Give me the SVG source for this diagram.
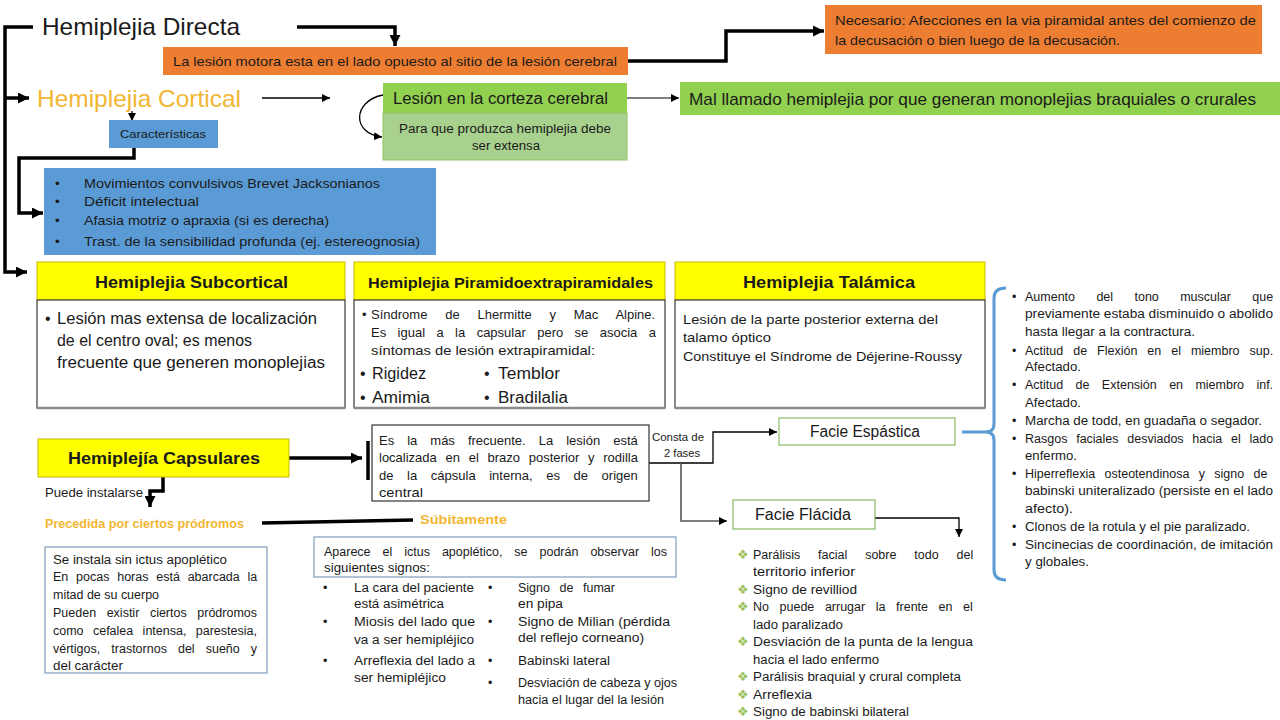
<svg xmlns="http://www.w3.org/2000/svg" width="1280" height="720" viewBox="0 0 1280 720">
<defs>
<marker id="big" viewBox="0 0 10 10" refX="10" refY="5" markerWidth="11" markerHeight="11" markerUnits="userSpaceOnUse" orient="auto"><path d="M0,0 L10,5 L0,10 z" fill="#000"/></marker>
<marker id="sm" viewBox="0 0 10 10" refX="10" refY="5" markerWidth="8" markerHeight="8" markerUnits="userSpaceOnUse" orient="auto"><path d="M0,0 L10,5 L0,10 z" fill="#000"/></marker>
</defs>
<style>
text{font-family:"Liberation Sans",Arial,sans-serif;fill:#1a1a1a}
.h{font-size:24px}
.gold{fill:#F2B632}
.b{font-weight:bold}
.orange{fill:#ED7D31}
.blue{fill:#5B9BD5}
.green{fill:#92D050}
.lgreen{fill:#A9D18E}
.yel{fill:#FFFF00;stroke:#C9B800;stroke-width:1}
.body{fill:#fff;stroke:#3a3a3a;stroke-width:1.2}
.shadow{stroke:#8a8a8a;stroke-width:2.5}
.thick{fill:none;stroke:#000;stroke-width:3.5}
.thin{fill:none;stroke:#000;stroke-width:1.3}
.bbox{fill:#fff;stroke:#7F9DB9;stroke-width:1.2}
.gbox{fill:#fff;stroke:#70AD47;stroke-width:1}
.f11{font-size:11px}.f12{font-size:12.5px}.f13{font-size:13px}.f135{font-size:13.5px}.f16{font-size:16px}.f17{font-size:17px}
.dia{fill:#9BC25A;font-family:"DejaVu Sans",sans-serif;font-size:13px}
</style>

<g id="connectors">
<path class="thick" d="M33,27 H5 V272 H27" marker-end="url(#big)"/>
<path class="thick" d="M5,98 H29" marker-end="url(#big)"/>
<path class="thick" d="M297,27 H395 V46" marker-end="url(#big)"/>
<path class="thick" d="M628,61 H726 V31 H824" marker-end="url(#big)"/>
<path class="thin" d="M262,98 H330" marker-end="url(#sm)"/>
<path class="thin" d="M132,111 V121" marker-end="url(#sm)"/>
<path class="thick" d="M134,148 V158 H19 V213 H43" marker-end="url(#big)"/>
<path class="thin" d="M383,95 C352,101 352,134 382,137" marker-end="url(#sm)"/>
<path fill="none" stroke="#555" stroke-width="1.3" d="M627,98 H679" marker-end="url(#sm)"/>
<path class="thick" d="M289,458 H362" marker-end="url(#big)"/>
<path fill="none" stroke="#000" stroke-width="3.5" d="M368,441 V480"/>
<path class="thin" stroke-width="1.6" d="M649,463 H713 V432 H777" marker-end="url(#sm)"/>
<path fill="none" stroke="#555" stroke-width="1.6" d="M681,463 V521 H727" marker-end="url(#sm)"/>
<path fill="none" stroke="#5B9BD5" stroke-width="3" d="M962,432 H988"/>
<path class="thin" d="M875,518 H959 V537" marker-end="url(#sm)"/>
<path class="thick" d="M163,477 V491 H150 V507" marker-end="url(#big)"/>
<path fill="none" stroke="#000" stroke-width="3.5" d="M262,523 L413,520"/>
<path fill="none" stroke="#5B9BD5" stroke-width="3" d="M1006,288 Q994,288 994,298 V424 Q994,432 986,432 Q994,432 994,440 V570 Q994,580 1006,580"/>
</g>

<g id="directa">
<text class="h" x="42" y="35" textLength="198" lengthAdjust="spacingAndGlyphs">Hemiplejia Directa</text>
</g>

<g id="lesion-motora">
<rect class="orange" x="163" y="47" width="465" height="28"/>
<text class="f13" x="173" y="66" textLength="444" lengthAdjust="spacingAndGlyphs">La lesión motora esta en el lado opuesto al sitio de la lesión cerebral</text>
</g>

<g id="necesario">
<rect class="orange" x="825" y="5" width="437" height="49"/>
<text class="f135" x="835" y="25" textLength="421" lengthAdjust="spacingAndGlyphs">Necesario: Afecciones en la via piramidal antes del comienzo de</text>
<text class="f135" x="835" y="45" textLength="285" lengthAdjust="spacingAndGlyphs">la decusación o bien luego de la decusación.</text>
</g>

<g id="cortical">
<text class="h gold" x="37" y="107" textLength="204" lengthAdjust="spacingAndGlyphs">Hemiplejia Cortical</text>
</g>

<g id="caracteristicas">
<rect class="blue" x="109" y="120" width="109" height="28"/>
<text class="f11" x="120" y="138" textLength="86" lengthAdjust="spacingAndGlyphs">Características</text>
</g>

<g id="lista-cortical">
<rect class="blue" x="44" y="168" width="392" height="87"/>
<g class="f135">
<text x="55" y="188">•</text><text x="84" y="188" textLength="296" lengthAdjust="spacingAndGlyphs">Movimientos convulsivos Brevet Jacksonianos</text>
<text x="55" y="206">•</text><text x="84" y="206" textLength="115" lengthAdjust="spacingAndGlyphs">Déficit intelectual</text>
<text x="55" y="225">•</text><text x="84" y="225" textLength="245" lengthAdjust="spacingAndGlyphs">Afasia motriz o apraxia (si es derecha)</text>
<text x="55" y="246">•</text><text x="84" y="246" textLength="336" lengthAdjust="spacingAndGlyphs">Trast. de la sensibilidad profunda (ej. estereognosia)</text>
</g>
</g>

<g id="corteza">
<rect class="green" x="383" y="83" width="244" height="30"/>
<rect class="lgreen" x="383" y="113" width="244" height="47" stroke="#92C060" stroke-width="1"/>
<text class="f16" x="393" y="104" textLength="215" lengthAdjust="spacingAndGlyphs">Lesión en la corteza cerebral</text>
<text class="f12" x="399" y="133" textLength="212" lengthAdjust="spacingAndGlyphs">Para que produzca hemiplejia debe</text>
<text class="f12" x="472" y="150" textLength="68" lengthAdjust="spacingAndGlyphs">ser extensa</text>
</g>

<g id="mal-llamado">
<rect class="green" x="680" y="82" width="600" height="33"/>
<text class="f17" x="689" y="105" textLength="567" lengthAdjust="spacingAndGlyphs">Mal llamado hemiplejia por que generan monoplejias braquiales o crurales</text>
</g>

<g id="subcortical">
<rect class="yel" x="37" y="262" width="308" height="38"/>
<rect class="body" x="37" y="300" width="308" height="108"/>
<line class="shadow" x1="37" y1="408" x2="345" y2="408"/>
<text class="b f17" x="95" y="288" textLength="193" lengthAdjust="spacingAndGlyphs">Hemiplejia Subcortical</text>
<g class="f16">
<text x="45" y="324">•</text><text x="57" y="324" textLength="260" lengthAdjust="spacingAndGlyphs">Lesión mas extensa de localización</text>
<text x="57" y="346" textLength="195" lengthAdjust="spacingAndGlyphs">de el centro oval; es menos</text>
<text x="57" y="368" textLength="268" lengthAdjust="spacingAndGlyphs">frecuente que generen monoplejias</text>
</g>
</g>

<g id="piramido">
<rect class="yel" x="354" y="262" width="311" height="38"/>
<rect class="body" x="354" y="300" width="311" height="108"/>
<line class="shadow" x1="354" y1="408" x2="665" y2="408"/>
<text class="b" font-size="15" x="368" y="288" textLength="285" lengthAdjust="spacingAndGlyphs">Hemiplejia Piramidoextrapiramidales</text>
<g class="f13">
<text x="362" y="319">•</text><text x="371" y="319" word-spacing="14.2">Síndrome de Lhermitte y Mac Alpine.</text>
<text x="371" y="337" word-spacing="7.8">Es igual a la capsular pero se asocia a</text>
<text x="371" y="355" textLength="224" lengthAdjust="spacingAndGlyphs">síntomas de lesión extrapiramidal:</text>
</g>
<g class="f16">
<text x="360" y="379">•</text><text x="372" y="379" textLength="54" lengthAdjust="spacingAndGlyphs">Rigidez</text>
<text x="484" y="379">•</text><text x="498" y="379" textLength="62" lengthAdjust="spacingAndGlyphs">Temblor</text>
<text x="360" y="403">•</text><text x="372" y="403" textLength="58" lengthAdjust="spacingAndGlyphs">Amimia</text>
<text x="484" y="403">•</text><text x="498" y="403" textLength="70" lengthAdjust="spacingAndGlyphs">Bradilalia</text>
</g>
</g>

<g id="talamica">
<rect class="yel" x="675" y="262" width="310" height="38"/>
<rect class="body" x="675" y="300" width="310" height="108"/>
<line class="shadow" x1="675" y1="408" x2="985" y2="408"/>
<text class="b f17" x="743" y="288" textLength="172" lengthAdjust="spacingAndGlyphs">Hemiplejia Talámica</text>
<g class="f13">
<text x="683" y="324" textLength="255" lengthAdjust="spacingAndGlyphs">Lesión de la parte posterior externa del</text>
<text x="683" y="342" textLength="88" lengthAdjust="spacingAndGlyphs">talamo óptico</text>
<text x="683" y="361" textLength="279" lengthAdjust="spacingAndGlyphs">Constituye el Síndrome de Déjerine-Roussy</text>
</g>
</g>

<g id="espastica-lista" class="f12">
<text x="1012" y="301">•</text><text x="1025" y="301" word-spacing="17.9">Aumento del tono muscular que</text>
<text x="1025" y="318" textLength="248" lengthAdjust="spacingAndGlyphs">previamente estaba disminuido o abolido</text>
<text x="1025" y="336" textLength="170" lengthAdjust="spacingAndGlyphs">hasta llegar a la contractura.</text>
<text x="1012" y="355">•</text><text x="1025" y="355" word-spacing="6.5">Actitud de Flexión en el miembro sup.</text>
<text x="1025" y="371" textLength="56" lengthAdjust="spacingAndGlyphs">Afectado.</text>
<text x="1012" y="389">•</text><text x="1025" y="389" word-spacing="8.9">Actitud de Extensión en miembro inf.</text>
<text x="1025" y="407" textLength="56" lengthAdjust="spacingAndGlyphs">Afectado.</text>
<text x="1012" y="425">•</text><text x="1025" y="425" textLength="237" lengthAdjust="spacingAndGlyphs">Marcha de todd, en guadaña o segador.</text>
<text x="1012" y="443">•</text><text x="1025" y="443" word-spacing="5.3">Rasgos faciales desviados hacia el lado</text>
<text x="1025" y="460" textLength="52" lengthAdjust="spacingAndGlyphs">enfermo.</text>
<text x="1012" y="478">•</text><text x="1025" y="478" word-spacing="5.9">Hiperreflexia osteotendinosa y signo de</text>
<text x="1025" y="495" textLength="248" lengthAdjust="spacingAndGlyphs">babinski uniteralizado (persiste en el lado</text>
<text x="1025" y="513" textLength="48" lengthAdjust="spacingAndGlyphs">afecto).</text>
<text x="1012" y="531">•</text><text x="1025" y="531" textLength="225" lengthAdjust="spacingAndGlyphs">Clonos de la rotula y el pie paralizado.</text>
<text x="1012" y="549">•</text><text x="1025" y="549" textLength="248" lengthAdjust="spacingAndGlyphs">Sincinecias de coordinación, de imitación</text>
<text x="1025" y="566" textLength="64" lengthAdjust="spacingAndGlyphs">y globales.</text>
</g>

<g id="capsulares">
<rect class="yel" x="38" y="439" width="251" height="38"/>
<text class="b f17" x="68" y="464" textLength="192" lengthAdjust="spacingAndGlyphs">Hemiplejía Capsulares</text>
</g>

<g id="frecuente">
<rect fill="#fff" stroke="#333" stroke-width="1.2" x="372" y="425" width="277" height="76"/>
<g class="f13">
<text x="379" y="445" word-spacing="9.4">Es la más frecuente. La lesión está</text>
<text x="379" y="462" word-spacing="5.1">localizada en el brazo posterior y rodilla</text>
<text x="379" y="480" word-spacing="10">de la cápsula interna, es de origen</text>
<text x="379" y="497" textLength="44" lengthAdjust="spacingAndGlyphs">central</text>
</g>
</g>

<g id="fases" class="f11">
<text x="652" y="441" textLength="52" lengthAdjust="spacingAndGlyphs">Consta de</text>
<text x="664" y="457" textLength="36" lengthAdjust="spacingAndGlyphs">2 fases</text>
</g>

<g id="facie-espastica">
<rect class="gbox" x="779" y="418" width="176" height="27"/>
<text class="f16" x="810" y="437" textLength="110" lengthAdjust="spacingAndGlyphs">Facie Espástica</text>
</g>

<g id="facie-flacida">
<rect class="gbox" x="733" y="500" width="142" height="29"/>
<text class="f16" x="755" y="520" textLength="96" lengthAdjust="spacingAndGlyphs">Facie Flácida</text>
</g>

<g id="flacida-lista" class="f12">
<text class="dia" x="737" y="559">❖</text><text x="753" y="559" word-spacing="14.4">Parálisis facial sobre todo del</text>
<text x="753" y="576" textLength="102" lengthAdjust="spacingAndGlyphs">territorio inferior</text>
<text class="dia" x="737" y="594">❖</text><text x="753" y="594" textLength="104" lengthAdjust="spacingAndGlyphs">Signo de revilliod</text>
<text class="dia" x="737" y="611">❖</text><text x="753" y="611" word-spacing="7.1">No puede arrugar la frente en el</text>
<text x="753" y="629" textLength="90" lengthAdjust="spacingAndGlyphs">lado paralizado</text>
<text class="dia" x="737" y="646">❖</text><text x="753" y="646" textLength="220" lengthAdjust="spacingAndGlyphs">Desviación de la punta de la lengua</text>
<text x="753" y="664" textLength="126" lengthAdjust="spacingAndGlyphs">hacia el lado enfermo</text>
<text class="dia" x="737" y="681">❖</text><text x="753" y="681" textLength="208" lengthAdjust="spacingAndGlyphs">Parálisis braquial y crural completa</text>
<text class="dia" x="737" y="699">❖</text><text x="753" y="699" textLength="59" lengthAdjust="spacingAndGlyphs">Arreflexia</text>
<text class="dia" x="737" y="716">❖</text><text x="753" y="716" textLength="156" lengthAdjust="spacingAndGlyphs">Signo de babinski bilateral</text>
</g>

<g id="puede">
<text class="f12" x="45" y="497" textLength="98" lengthAdjust="spacingAndGlyphs">Puede instalarse</text>
</g>

<g id="precedida">
<text class="f12 b gold" x="45" y="528" textLength="199" lengthAdjust="spacingAndGlyphs">Precedida por ciertos pródromos</text>
</g>

<g id="subitamente">
<text class="f12 b gold" x="420" y="524" textLength="87" lengthAdjust="spacingAndGlyphs">Súbitamente</text>
</g>

<g id="sin-ictus">
<rect class="bbox" x="45" y="547" width="222" height="126"/>
<g class="f12">
<text x="53" y="564" textLength="174" lengthAdjust="spacingAndGlyphs">Se instala sin ictus apoplético</text>
<text x="53" y="581" word-spacing="4.3">En pocas horas está abarcada la</text>
<text x="53" y="599" textLength="106" lengthAdjust="spacingAndGlyphs">mitad de su cuerpo</text>
<text x="53" y="617" word-spacing="7.1">Pueden existir ciertos pródromos</text>
<text x="53" y="635" word-spacing="5.9">como cefalea intensa, parestesia,</text>
<text x="53" y="653" word-spacing="7.6">vértigos, trastornos del sueño y</text>
<text x="53" y="670" textLength="70" lengthAdjust="spacingAndGlyphs">del carácter</text>
</g>
</g>

<g id="aparece">
<rect class="bbox" x="314" y="537" width="362" height="40"/>
<g class="f12">
<text x="324" y="556" word-spacing="8.5">Aparece el ictus apoplético, se podrán observar los</text>
<text x="324" y="572" textLength="106" lengthAdjust="spacingAndGlyphs">siguientes signos:</text>
</g>
</g>

<g id="signos" class="f12">
<text x="323" y="592">•</text><text x="354" y="592" textLength="120" lengthAdjust="spacingAndGlyphs">La cara del paciente</text>
<text x="354" y="608" textLength="90" lengthAdjust="spacingAndGlyphs">está asimétrica</text>
<text x="323" y="626">•</text><text x="354" y="626" textLength="121" lengthAdjust="spacingAndGlyphs">Miosis del lado que</text>
<text x="354" y="644" textLength="120" lengthAdjust="spacingAndGlyphs">va a ser hemipléjico</text>
<text x="323" y="665">•</text><text x="354" y="665" textLength="121" lengthAdjust="spacingAndGlyphs">Arreflexia del lado a</text>
<text x="354" y="682" textLength="92" lengthAdjust="spacingAndGlyphs">ser hemipléjico</text>
<text x="488" y="592">•</text><text x="518" y="592" word-spacing="6.1">Signo de fumar</text>
<text x="518" y="608" textLength="45" lengthAdjust="spacingAndGlyphs">en pipa</text>
<text x="488" y="626">•</text><text x="518" y="626" textLength="152" lengthAdjust="spacingAndGlyphs">Signo de Milian (pérdida</text>
<text x="518" y="642" textLength="126" lengthAdjust="spacingAndGlyphs">del reflejo corneano)</text>
<text x="488" y="665">•</text><text x="518" y="665" textLength="92" lengthAdjust="spacingAndGlyphs">Babinski lateral</text>
<text x="488" y="687">•</text><text x="518" y="687" textLength="159" lengthAdjust="spacingAndGlyphs">Desviación de cabeza y ojos</text>
<text x="518" y="704" textLength="146" lengthAdjust="spacingAndGlyphs">hacia el lugar del la lesión</text>
</g>
</svg>
